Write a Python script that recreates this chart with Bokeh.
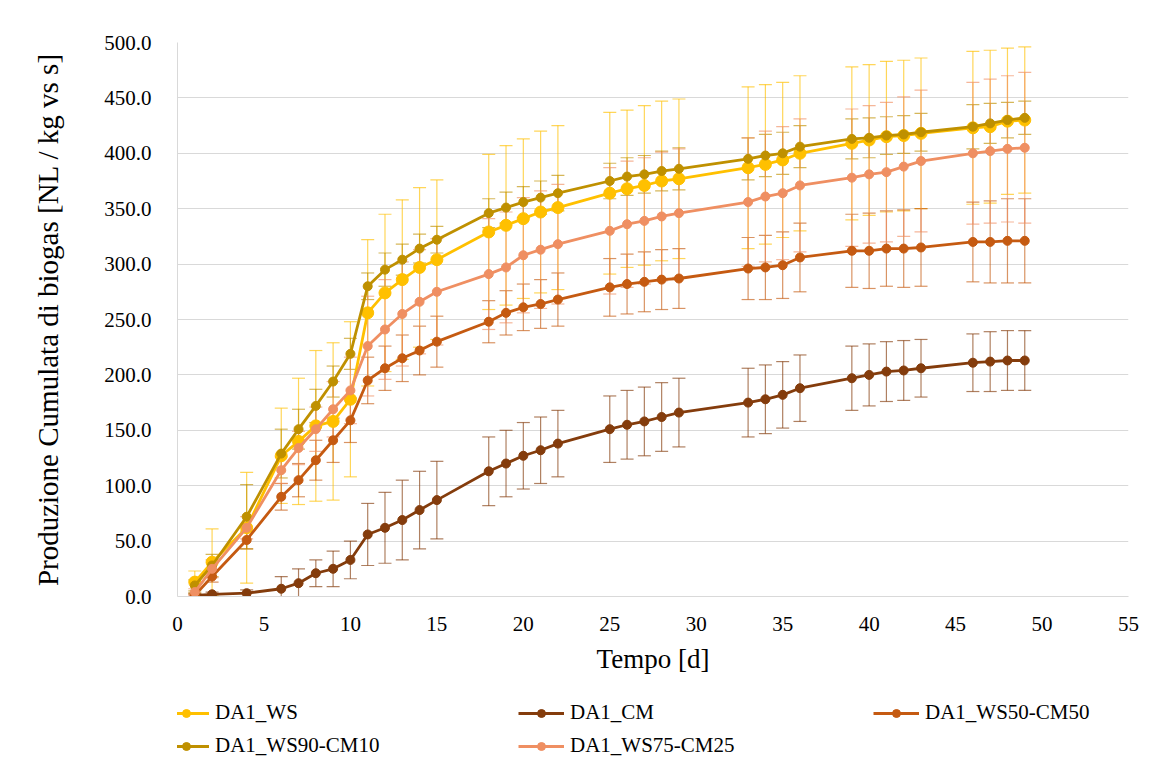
import math
from bokeh.plotting import figure
from bokeh.layouts import column
from bokeh.models import (ColumnDataSource, Whisker, TeeHead, Legend, LegendItem,
                          SingleIntervalTicker, NumeralTickFormatter, Range1d)
from bokeh.embed import file_html
from bokeh.resources import INLINE

# ---------------- data ----------------
days = [1, 2, 4, 6, 7, 8, 9, 10, 11, 12, 13, 14, 15, 18, 19, 20, 21, 22,
        25, 26, 27, 28, 29, 33, 34, 35, 36, 39, 40, 41, 42, 43, 46, 47, 48, 49]

ws = [13, 31, 62, 127, 140, 154, 158, 178, 256, 274, 286, 297, 304, 329, 335, 341, 347, 351,
      364, 368, 371, 375, 377, 387, 390, 394, 400, 409, 412, 415, 416, 418, 423, 424, 429, 430]
ws_err = [10, 30, 50, 43, 57, 68, 71, 70, 66, 71, 72, 72, 72, 70, 72, 72, 73, 74,
          73, 71, 72, 72, 72, 73, 72, 70, 70, 69, 68, 68, 68, 68, 69, 69, 66, 66]

cm = [1, 2, 3, 7, 12, 21, 25, 33, 56, 62, 69, 78, 87, 113, 120, 127, 132, 138,
      151, 155, 158, 162, 166, 175, 178, 182, 188, 197, 200, 203, 204, 206, 211, 212, 213, 213]
cm_err = [2, 2, 3, 11, 13, 12, 16, 17, 28, 32, 36, 35, 35, 31, 30, 30, 30, 30,
          30, 31, 31, 31, 31, 31, 31, 30, 30, 29, 28, 27, 27, 26, 26, 27, 27, 27]

ws50 = [1, 18, 51, 90, 105, 123, 141, 159, 195, 206, 215, 222, 230, 248, 256, 261, 264, 268,
        279, 282, 284, 286, 287, 296, 297, 299, 306, 312, 312, 314, 314, 315, 320, 320, 321, 321]
ws50_err = [1, 5, 8, 12, 15, 18, 20, 20, 21, 20, 21, 22, 23, 19, 20, 21, 22, 24,
            26, 27, 27, 27, 27, 28, 29, 30, 31, 33, 34, 34, 35, 35, 36, 37, 38, 38]

ws90 = [10, 28, 72, 129, 151, 172, 194, 219, 280, 295, 304, 314, 322, 346, 351, 356, 360, 364,
        375, 379, 381, 384, 386, 395, 398, 400, 406, 413, 414, 416, 417, 419, 424, 427, 430, 432]
ws90_err = [5, 10, 29, 22, 18, 15, 14, 14, 12, 15, 14, 13, 12, 13, 14, 14, 15, 16,
            16, 17, 17, 18, 19, 19, 19, 19, 19, 18, 18, 17, 17, 17, 20, 18, 16, 15]

ws75 = [4, 25, 62, 114, 134, 151, 169, 186, 226, 241, 255, 266, 275, 291, 297, 308, 313, 318,
        330, 336, 339, 343, 346, 356, 361, 364, 371, 378, 381, 383, 388, 393, 400, 402, 404, 405]
ws75_err = [3, 8, 10, 12, 15, 20, 25, 30, 45, 45, 47, 47, 48, 50, 50, 52, 53, 54,
            57, 57, 57, 58, 58, 58, 59, 60, 60, 62, 62, 63, 63, 64, 64, 65, 66, 68]

series_names = ["DA1_WS", "DA1_CM", "DA1_WS50-CM50", "DA1_WS90-CM10", "DA1_WS75-CM25"]
series_vals = [ws, cm, ws50, ws90, ws75]
series_errs = [ws_err, cm_err, ws50_err, ws90_err, ws75_err]
series_colors = ["#FFC000", "#843C0C", "#C55A11", "#BF9000", "#EF8F62"]
marker_sizes = [12, 9, 9, 9, 9]
# legend reading order (row by row): WS, CM, WS50-CM50 / WS90-CM10, WS75-CM25
legend_order = [0, 3, 1, 4, 2]   # Bokeh fills legend columns first

x_ticks_interval = 5
y_ticks_interval = 50

FONT = "Liberation Serif"
W = 1167
MAIN_H = 690
LEG_H = 772 - MAIN_H

# ---------------- main figure ----------------
p = figure(width=W, height=MAIN_H, output_backend="svg", toolbar_location=None,
           x_range=Range1d(0, 55), y_range=Range1d(0, 500),
           min_border_left=177, min_border_right=39, min_border_top=42,
           min_border_bottom=MAIN_H - 596)
p.background_fill_color = "white"
p.border_fill_color = "white"
p.outline_line_color = None

p.xgrid.grid_line_color = None
p.ygrid.grid_line_color = "#D9D9D9"
p.ygrid.grid_line_width = 1

p.xaxis.ticker = SingleIntervalTicker(interval=x_ticks_interval)
p.yaxis.ticker = SingleIntervalTicker(interval=y_ticks_interval)
p.yaxis.formatter = NumeralTickFormatter(format="0.0")
for ax in (p.xaxis, p.yaxis):
    ax.axis_line_color = "#D9D9D9"
    ax.major_tick_line_color = None
    ax.minor_tick_line_color = None
    ax.major_label_text_font = FONT
    ax.major_label_text_font_size = "21px"
    ax.major_label_text_color = "#000000"
    ax.axis_label_text_font = FONT
    ax.axis_label_text_font_style = "normal"
    ax.axis_label_text_color = "#000000"
p.yaxis.major_label_standoff = 20
p.xaxis.major_label_standoff = 14
p.xaxis.axis_label = "Tempo [d]"
p.xaxis.axis_label_text_font_size = "27px"
p.xaxis.axis_label_standoff = 10
p.yaxis.axis_label = "Produzione Cumulata di biogas [NL / kg vs s]"
p.yaxis.axis_label_text_font_size = "29px"
p.yaxis.axis_label_standoff = 37

for name, vals, errs, col, ms in zip(series_names, series_vals, series_errs, series_colors, marker_sizes):
    src = ColumnDataSource(dict(x=days,
                                upper=[v + e for v, e in zip(vals, errs)],
                                lower=[v - e for v, e in zip(vals, errs)]))
    wh = Whisker(source=src, base="x", upper="upper", lower="lower",
                 line_color=col, line_alpha=0.65, line_width=1.2,
                 upper_head=TeeHead(size=13, line_color=col, line_alpha=0.65, line_width=1.2),
                 lower_head=TeeHead(size=13, line_color=col, line_alpha=0.65, line_width=1.2))
    p.add_layout(wh)

for name, vals, col, ms in zip(series_names, series_vals, series_colors, marker_sizes):
    src = ColumnDataSource(dict(x=days, y=vals))
    p.line("x", "y", source=src, line_color=col, line_width=2.8)
    p.scatter("x", "y", source=src, marker="circle", size=ms, fill_color=col, line_color=col)

# ---------------- legend strip ----------------
# same series, drawn in a strip whose data ranges keep them out of view; only the legend shows
lg = figure(width=W, height=LEG_H, output_backend="svg", toolbar_location=None,
            x_range=Range1d(-3, -2), y_range=Range1d(-3, -2),
            x_axis_type=None, y_axis_type=None,
            min_border_left=0, min_border_right=0, min_border_top=0, min_border_bottom=0)
lg.outline_line_color = None
lg.grid.grid_line_color = None
lg.background_fill_color = "white"
lg.border_fill_color = "white"

items = []
for i in legend_order:
    src = ColumnDataSource(dict(x=days, y=series_vals[i]))
    col = series_colors[i]
    ln = lg.line("x", "y", source=src, line_color=col, line_width=2.8)
    sc = lg.scatter("x", "y", source=src, marker="circle", size=8, fill_color=col, line_color=col)
    items.append(LegendItem(label=series_names[i], renderers=[ln, sc]))

legend = Legend(items=items, location=(-14, 14), ncols=3,
                label_text_font=FONT, label_text_font_size="21px", label_text_color="#000000",
                glyph_width=46, glyph_height=20, label_width=295, label_height=20,
                label_standoff=6, spacing=8, padding=0, margin=0,
                border_line_color=None, background_fill_alpha=0)
lg.add_layout(legend)

layout = column(p, lg, spacing=0)
open("out.html", "w").write(file_html(layout, INLINE))
